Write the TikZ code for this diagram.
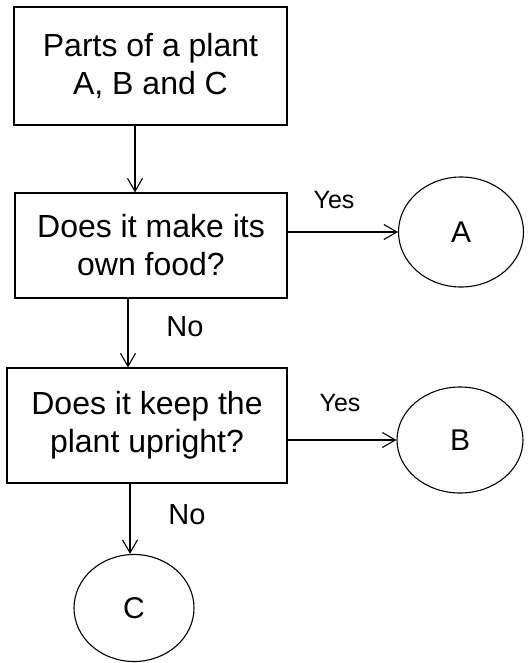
\documentclass[tikz,border=0pt]{standalone}
\usepackage{fontspec}
\setmainfont{Liberation Sans}
\usetikzlibrary{arrows.meta,shapes.geometric}

\begin{document}
\begin{tikzpicture}[x=1pt,y=-1pt,line width=1.1pt,
    box/.style={draw,rectangle,align=center,font=\fontsize{32}{38}\selectfont},
    leaf/.style={draw,ellipse,inner sep=0pt,font=\fontsize{30}{36}\selectfont},
    lbl/.style={inner sep=0pt},
    flow/.style={-{Straight Barb[length=13pt,width=15pt,line width=1.1pt]}}]
      \useasboundingbox (0,0) rectangle (528,663);
      \node[box,minimum width=273pt,minimum height=118pt] (start) at (150.5,66) {Parts of a plant\\A, B and C};
      \node[box,minimum width=272pt,minimum height=105pt] (food) at (151,245.5) {Does it make its\\own food?};
      \node[box,minimum width=280pt,minimum height=115pt] (up) at (147,425.5) {Does it keep the\\plant upright?};
      \node[leaf,minimum width=125pt,minimum height=110pt] (A) at (461,232) {A};
      \node[leaf,minimum width=126pt,minimum height=106pt] (B) at (460,440) {B};
      \node[leaf,minimum width=120pt,minimum height=107pt] (C) at (134,608) {C};
      \coordinate (x1) at (135,0);
      \coordinate (x2) at (128,0);
      \coordinate (x3) at (130,0);
      \draw[flow] (start.south -| x1) -- (food.north -| x1);
      \draw[flow] (food.east |- A) -- (A);
      \draw[flow] (food.south -| x2) -- (up.north -| x2);
      \draw[flow] (up.east |- B) -- (B);
      \draw[flow] (up.south -| x3) -- (C.north -| x3);
      \node[lbl,font=\fontsize{25}{30}\selectfont] (yes1) at (334,200) {Yes};
      \node[lbl,font=\fontsize{29}{34}\selectfont] (no1) at (185,327) {No};
      \node[lbl,font=\fontsize{25}{30}\selectfont] (yes2) at (340,403) {Yes};
      \node[lbl,font=\fontsize{29}{34}\selectfont] (no2) at (187,515) {No};
    \end{tikzpicture}
\end{document}
